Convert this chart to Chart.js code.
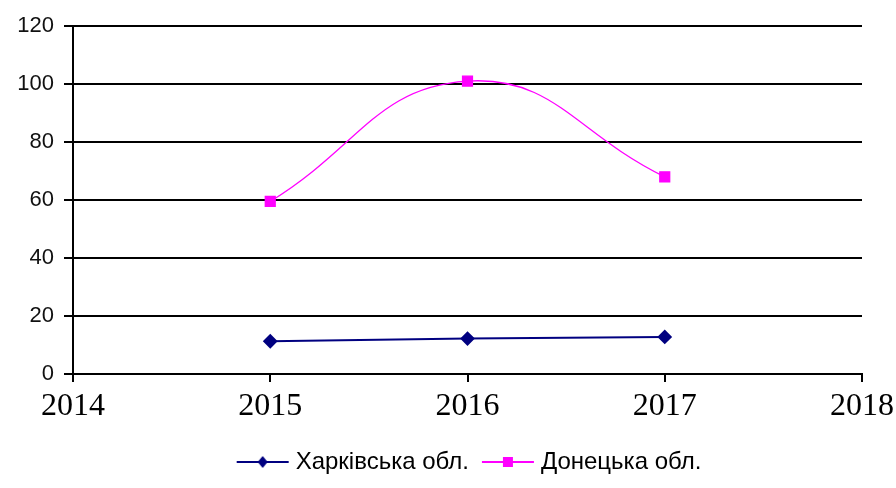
<!DOCTYPE html>
<html>
<head>
<meta charset="utf-8">
<script src="https://cdn.jsdelivr.net/npm/chart.js@4/dist/chart.umd.min.js"></script>
<style>
  html, body { margin: 0; padding: 0; background: #fff; }
  #wrap { width: 896px; height: 488px; }
</style>
</head>
<body>
<div id="wrap"><canvas id="myChart" width="896" height="488"></canvas></div>
<script>
// роки та значення
var roky = [2015, 2016, 2017]
var kharkiv = [11.3, 12.2, 12.8]
var donetsk = [59.5, 101, 68]
var nazvy = ['Харківська обл.', 'Донецька обл.']

// значок легенди: лінія з маркером посередині
function znachok(kolir, forma) {
    var c = document.createElement('canvas')
    c.width = 64
    c.height = 14
    var g = c.getContext('2d')
    g.strokeStyle = kolir
    g.lineWidth = 2
    g.beginPath()
    g.moveTo(10, 7)
    g.lineTo(62, 7)
    g.stroke()
    g.fillStyle = kolir
    g.beginPath()
    if (forma == 'diamond') {
        g.moveTo(36, 1); g.lineTo(41, 7); g.lineTo(36, 13); g.lineTo(31, 7)
    } else {
        g.rect(31, 2, 10, 10)
    }
    g.closePath()
    g.fill()
    return c
}

function tochky(znach) {
    var res = []
    for (var i = 0; i < roky.length; i++) {
        res.push({ x: roky[i], y: znach[i] })
    }
    return res
}

// легенда по центру області графіка, а не всього полотна
var centrLegendy = {
    id: 'centrLegendy',
    afterLayout: function (chart) {
        var lg = chart.legend
        var zsuv = (chart.chartArea.left + chart.chartArea.right) / 2 - (lg.left + lg.right) / 2
        lg.left += zsuv
        lg.right += zsuv
    }
}

const ctx = document.getElementById('myChart')

var grafico = new Chart(ctx, {
    type: 'line',
    data: {
        datasets: [{
            label: nazvy[0],
            data: tochky(kharkiv),
            borderColor: '#000080',
            backgroundColor: '#000080',
            borderWidth: 2,
            pointStyle: 'rectRot',
            pointRadius: 6,
            tension: 0,
            legendIcon: znachok('#000080', 'diamond')
        }, {
            label: nazvy[1],
            data: tochky(donetsk),
            borderColor: '#ff00ff',
            backgroundColor: '#ff00ff',
            borderWidth: 1.3,
            pointStyle: 'rect',
            pointRadius: 7,
            tension: 0.45,
            legendIcon: znachok('#ff00ff', 'square')
        }]
    },
    plugins: [centrLegendy],
    options: {
        responsive: false,
        animation: false,
        layout: { padding: { top: 26, right: 34, left: 0, bottom: 4 } },
        plugins: {
            tooltip: { enabled: false },
            legend: {
                position: 'bottom',
                labels: {
                    usePointStyle: true,
                    pointStyleWidth: 50,
                    color: '#000',
                    font: { family: 'Liberation Sans, Arial, sans-serif', size: 24 },
                    padding: 10,
                    generateLabels: function (chart) {
                        return chart.data.datasets.map(function (ds, i) {
                            return {
                                text: ds.label,
                                pointStyle: ds.legendIcon,
                                fillStyle: ds.borderColor,
                                strokeStyle: ds.borderColor,
                                fontColor: '#000',
                                lineWidth: 0,
                                hidden: false,
                                datasetIndex: i
                            }
                        })
                    }
                }
            }
        },
        scales: {
            x: {
                type: 'linear',
                min: 2014,
                max: 2018,
                ticks: {
                    stepSize: 1,
                    color: '#000',
                    padding: 5,
                    font: { family: 'Liberation Serif, Times New Roman, serif', size: 32 },
                    callback: function (v) { return String(v) }
                },
                grid: { drawOnChartArea: false, drawTicks: true, tickLength: 8, color: '#000', lineWidth: 2 },
                border: { color: '#000', width: 2 },
                afterFit: function (scale) {
                    scale.height = 66
                    scale.paddingLeft = 0
                    scale.paddingRight = 0
                }
            },
            y: {
                min: 0,
                max: 120,
                ticks: {
                    stepSize: 20,
                    color: '#111',
                    padding: 10,
                    font: { family: 'Liberation Sans, Arial, sans-serif', size: 22 }
                },
                grid: { color: '#000', lineWidth: 2, tickLength: 9 },
                border: { color: '#000', width: 2 },
                afterFit: function (scale) { scale.width = 73 }
            }
        }
    }
})
</script>
</body>
</html>
